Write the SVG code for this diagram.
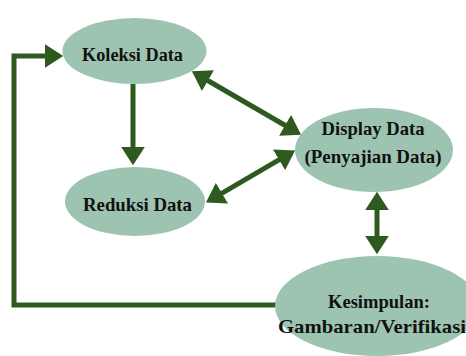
<svg xmlns="http://www.w3.org/2000/svg" width="466" height="356" viewBox="0 0 466 356">
<style>
.node{fill:#9dc4b1;}
.lbl{font-family:"Liberation Serif","Times New Roman",serif;font-weight:bold;font-size:19.5px;fill:#111111;text-anchor:middle;}
.conn{stroke:#2f5a1f;stroke-width:5;fill:none;}
</style>
<defs>
<marker id="ah" markerUnits="userSpaceOnUse" markerWidth="20" markerHeight="24" viewBox="0 0 18 22" refX="3" refY="11" orient="auto-start-reverse">
<path d="M0,0 L17,11 L0,22 z" fill="#2f5a1f"/>
</marker>
</defs>
<rect width="466" height="356" fill="#ffffff"/>
<g id="connectors">
<line class="conn" x1="133" y1="84" x2="133" y2="150" marker-end="url(#ah)"/>
<line class="conn" x1="205.1" y1="79" x2="287.9" y2="127" marker-start="url(#ah)" marker-end="url(#ah)"/>
<line class="conn" x1="219.1" y1="194.9" x2="281.9" y2="158.1" marker-start="url(#ah)" marker-end="url(#ah)"/>
<line class="conn" x1="377" y1="207" x2="377" y2="239" marker-start="url(#ah)" marker-end="url(#ah)"/>
<polyline class="conn" points="278,305 14,305 14,56 48,56" marker-end="url(#ah)"/>
</g>
<g id="koleksi">
<ellipse class="node" cx="134.5" cy="51" rx="72" ry="33"/>
<text class="lbl" x="132.5" y="61" textLength="101" lengthAdjust="spacingAndGlyphs">Koleksi Data</text>
</g>
<g id="reduksi">
<ellipse class="node" cx="135" cy="201.5" rx="70" ry="34.5"/>
<text class="lbl" x="137.5" y="211" textLength="109" lengthAdjust="spacingAndGlyphs">Reduksi Data</text>
</g>
<g id="display">
<ellipse class="node" cx="374" cy="150" rx="79" ry="42"/>
<text class="lbl" x="373" y="135" textLength="103" lengthAdjust="spacingAndGlyphs">Display Data</text>
<text class="lbl" x="373" y="163" textLength="137" lengthAdjust="spacingAndGlyphs">(Penyajian Data)</text>
</g>
<g id="kesimpulan">
<ellipse class="node" cx="377" cy="306" rx="102" ry="50"/>
<text class="lbl" x="379" y="308" textLength="102" lengthAdjust="spacingAndGlyphs">Kesimpulan:</text>
<text class="lbl" x="372" y="333" textLength="188" lengthAdjust="spacingAndGlyphs">Gambaran/Verifikasi</text>
</g>
</svg>
